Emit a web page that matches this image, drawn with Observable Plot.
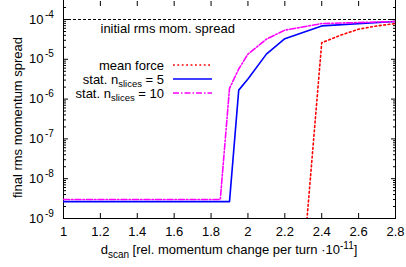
<!DOCTYPE html>
<html><head><meta charset="utf-8">
<script src="https://cdn.jsdelivr.net/npm/d3@7"></script>
<script src="https://cdn.jsdelivr.net/npm/@observablehq/plot@0.6"></script>
<style>
body{margin:0;background:#fff;}
svg{font-family:"Liberation Sans",Arial,sans-serif;}
</style></head><body><div id="chart"></div>
<script>
// ---- data ----
const xMean = [2.3, 2.4, 2.5, 2.6, 2.7, 2.8];
const yMean = [7.5e-11, 2.6e-5, 4.0e-5, 5.7e-5, 6.9e-5, 7.9e-5];

const xStat5 = [1.0, 1.1, 1.2, 1.3, 1.4, 1.5, 1.6, 1.7, 1.8, 1.9, 1.95, 2.0, 2.1, 2.2, 2.4, 2.8];
const yStat5 = [2.65e-9, 2.65e-9, 2.65e-9, 2.65e-9, 2.65e-9, 2.65e-9, 2.65e-9, 2.65e-9, 2.65e-9, 2.65e-9,
                1.68e-6, 3.2e-6, 1.35e-5, 3.3e-5, 6.9e-5, 8.9e-5];

const xStat10 = [1.0, 1.1, 1.2, 1.3, 1.4, 1.5, 1.6, 1.7, 1.8, 1.85, 1.9, 1.95, 2.0, 2.1, 2.2, 2.4, 2.8];
const yStat10 = [3.0e-9, 3.0e-9, 3.0e-9, 3.0e-9, 3.0e-9, 3.0e-9, 3.0e-9, 3.0e-9, 3.0e-9, 3.0e-9,
                 1.86e-6, 5.7e-6, 1.35e-5, 3.2e-5, 5.4e-5, 7.9e-5, 8.9e-5];

const initialSpread = [1e-4];
const initialLabel = "initial rms mom. spread";

const xDomain = [1, 2.8];
const yDomain = [1e-9, 3e-4];
const xTicks = [1, 1.2, 1.4, 1.6, 1.8, 2, 2.2, 2.4, 2.6, 2.8];
const xTickLabels = ["1", "1.2", "1.4", "1.6", "1.8", "2", "2.2", "2.4", "2.6", "2.8"];
const yTicks = [1e-9, 1e-8, 1e-7, 1e-6, 1e-5, 1e-4];
const yTickExps = ["-9", "-8", "-7", "-6", "-5", "-4"];
const yMinorMult = [2, 3, 4, 5, 6, 7, 8, 9];

const yTitle = "final rms momentum spread";
const seriesNames = ["mean force", "stat. n", "stat. n"];
const colors = ["#ff0000", "#0000ff", "#ff00ff"];

// ---- build ----
const toRows = (xs, ys) => xs.map((x, i) => ({x, y: ys[i]}));
const mean = toRows(xMean, yMean);
const stat5 = toRows(xStat5, yStat5);
const stat10 = toRows(xStat10, yStat10);
const yMinor = [];
yTicks.forEach(t => yMinorMult.forEach(m => { const v = t * m; if (v < yDomain[1]) yMinor.push(v); }));
const fmtX = d => xTickLabels[xTicks.findIndex(t => Math.abs(t - d) < 1e-9)];

const W = 406, H = 267;
const plot = Plot.plot({
  width: W, height: H,
  marginLeft: 63, marginRight: 11, marginTop: 0, marginBottom: 49,
  x: {domain: xDomain},
  y: {type: "log", domain: yDomain},
  style: {fontFamily: "Liberation Sans, Arial, sans-serif", fontSize: "13px", color: "#000", background: "#fff"},
  marks: [
    // inward ticks
    Plot.axisX({anchor: "bottom", ticks: xTicks, tickSize: 5, dy: -5, tickFormat: () => "", label: null}),
    Plot.axisX({anchor: "top", ticks: xTicks, tickSize: 5, dy: 5, tickFormat: () => "", label: null}),
    Plot.axisY({anchor: "left", ticks: yTicks, tickSize: 5, dx: 5, tickFormat: () => "", label: null}),
    Plot.axisY({anchor: "right", ticks: yTicks, tickSize: 5, dx: -5, tickFormat: () => "", label: null}),
    Plot.axisY({anchor: "left", ticks: yMinor, tickSize: 3, dx: 3, tickFormat: () => "", label: null}),
    Plot.axisY({anchor: "right", ticks: yMinor, tickSize: 3, dx: -3, tickFormat: () => "", label: null}),
    // x tick labels
    Plot.axisX({anchor: "bottom", ticks: xTicks, tickSize: 0, tickPadding: 8, tickFormat: fmtX, label: null, fontSize: 13}),
    // y tick labels 10^n
    Plot.text(yTicks, {y: d => d, text: () => "10", frameAnchor: "left", dx: -20, textAnchor: "end", fontSize: 13}),
    Plot.text(yTicks, {y: d => d, text: (d, i) => yTickExps[i], frameAnchor: "left", dx: -18.5, dy: -5, textAnchor: "start", fontSize: 10}),
    // y title
    Plot.text([yTitle], {text: d => d, frameAnchor: "left", rotate: -90, dx: -46, dy: 8, textAnchor: "middle", fontSize: 13}),
    // frame (no top border visible)
    Plot.ruleX(xDomain, {stroke: "#000", strokeWidth: 1}),
    Plot.ruleY([yDomain[0]], {stroke: "#000", strokeWidth: 1}),
    // initial spread
    Plot.ruleY(initialSpread, {stroke: "#000", strokeWidth: 1.2, strokeDasharray: "3,2"}),
    Plot.text([initialLabel], {text: d => d, frameAnchor: "top-left", dx: 37, dy: 28, textAnchor: "start", lineAnchor: "middle", fontSize: 13}),
    // series
    Plot.line(mean, {x: "x", y: "y", stroke: colors[0], strokeWidth: 1.6, strokeDasharray: "1.8,2.6", clip: true}),
    Plot.line(stat5, {x: "x", y: "y", stroke: colors[1], strokeWidth: 1.6, clip: true}),
    Plot.line(stat10, {x: "x", y: "y", stroke: colors[2], strokeWidth: 1.6, strokeDasharray: "6,2,1.5,2", clip: true})
  ]
});

const svg = d3.select(plot);
const font = "Liberation Sans, Arial, sans-serif";

// x axis title with subscript / superscript
const xt = svg.append("text").attr("x", 229).attr("y", 254).attr("text-anchor", "middle")
  .attr("font-family", font).attr("font-size", 13).attr("fill", "#000");
xt.append("tspan").text("d");
xt.append("tspan").attr("font-size", 10).attr("dy", 4).text("scan");
xt.append("tspan").attr("dy", -4).text(" [rel. momentum change per turn \u00b710");
xt.append("tspan").attr("font-size", 10).attr("dy", -5).text("-11");
xt.append("tspan").attr("dy", 5).text("]");

// legend
const legend = svg.append("g").attr("font-family", font).attr("font-size", 13).attr("fill", "#000");
const legY = [65, 79, 93];
const legSub = [null, ["slices", " = 5"], ["slices", " = 10"]];
const dashes = ["1.8,2.6", null, "6,2,1.5,2"];
legY.forEach((y, i) => {
  const t = legend.append("text").attr("x", 164).attr("y", y + 4.5).attr("text-anchor", "end");
  t.append("tspan").text(seriesNames[i]);
  if (legSub[i]) {
    t.append("tspan").attr("font-size", 9.5).attr("dy", 3).text(legSub[i][0]);
    t.append("tspan").attr("dy", -3).text(legSub[i][1]);
  }
  const l = legend.append("line").attr("x1", 173).attr("x2", 212).attr("y1", y).attr("y2", y)
    .attr("stroke", colors[i]).attr("stroke-width", 1.6);
  if (dashes[i]) l.attr("stroke-dasharray", dashes[i]);
});

document.getElementById("chart").appendChild(plot);
</script></body></html>
